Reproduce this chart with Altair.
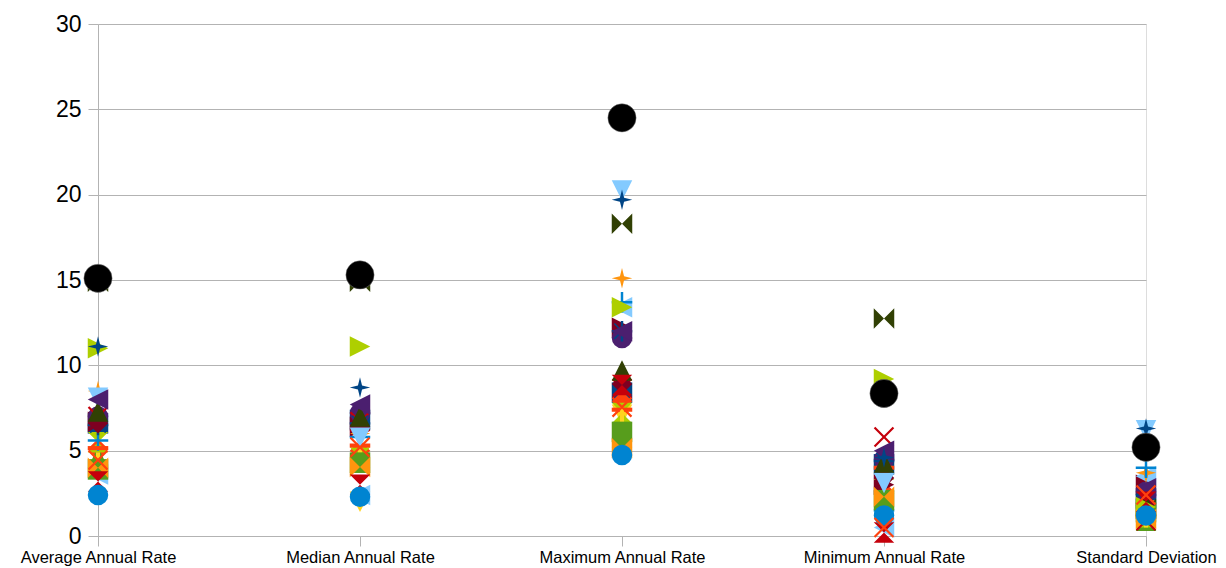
import altair as alt
import pandas as pd

categories = ["Average Annual Rate", "Median Annual Rate", "Maximum Annual Rate",
              "Minimum Annual Rate", "Standard Deviation"]

# series values: [avg, median, max, min, std]
s01 = [6.6, 6.8, 8.4, 4.2, 2.2]
s02 = [5.1, 5.0, 7.9, 2.6, 1.8]
s03 = [3.9, 2.0, 7.1, 1.9, 1.5]
s04 = [4.6, 4.3, 5.8, 1.8, 0.9]
s05 = [6.7, 6.4, 12.2, 3.0, 3.0]
s06 = [3.6, 2.4, 13.4, 0.5, 3.5]
s07 = [14.9, 14.9, 18.3, 12.75, 1.6]
s08 = [5.5, 4.6, 7.2, 3.9, 1.1]
s09 = [7.0, 7.2, 11.6, 4.5, 2.6]
s10 = [8.5, 6.0, 15.1, 4.0, 3.7]
s11 = [7.0, 6.7, 8.65, 5.8, 0.9]
s12 = [5.6, 5.8, 13.7, 1.5, 4.0]
s13 = [6.5, 6.6, 12.0, 4.4, 2.4]
s14 = [5.15, 5.3, 7.4, 4.0, 1.2]
s15 = [4.3, 4.5, 7.0, 3.6, 1.1]
s16 = [3.9, 4.3, 6.1, 2.1, 1.4]
s17 = [6.6, 6.3, 8.9, 3.4, 1.9]
s18 = [8.1, 5.75, 20.25, 3.1, 6.2]
s19 = [7.3, 7.0, 9.7, 4.3, 1.8]
s20 = [11.0, 11.1, 13.4, 9.2, 1.7]
s21 = [8.0, 7.7, 12.0, 5.0, 2.8]
s22 = [4.0, 4.05, 5.15, 2.3, 1.0]
s23 = [3.2, 3.0, 8.85, 0.2, 2.0]
s24 = [2.4, 2.3, 4.75, 1.2, 1.2]
s25 = [11.1, 8.7, 19.7, 4.6, 6.3]
s26 = [4.45, 5.2, 7.55, 0.5, 2.4]
highlight = [15.1, 15.3, 24.5, 8.35, 5.2]

series_values = [s01, s02, s03, s04, s05, s06, s07, s08, s09, s10, s11, s12, s13,
                 s14, s15, s16, s17, s18, s19, s20, s21, s22, s23, s24, s25, s26]
series_names = [f"Series {i+1}" for i in range(len(series_values))]

palette = ["#004586", "#ff420e", "#ffd320", "#579d1c", "#7e0021", "#83caff",
           "#314004", "#aecf00", "#4b1f6f", "#ff950e", "#c5000b", "#0084d1"]

SQUARE = "M-1,-1H1V1H-1Z"
DIAMOND = "M0,-1L1,0L0,1L-1,0Z"
DOWN = "M-1,-1L1,-1L0,1Z"
UP = "M-1,1L1,1L0,-1Z"
RIGHT = "M-1,-1L1,0L-1,1Z"
LEFT = "M1,-1L-1,0L1,1Z"
BOWTIE = "M-1,-1L0,0L-1,1Z M1,-1L0,0L1,1Z"
SANDGLASS = "M-1,-1L1,-1L0,0Z M-1,1L1,1L0,0Z"
CIRCLE = "circle"
STAR = "M0,-1L0.2,-0.2L1,0L0.2,0.2L0,1L-0.2,0.2L-1,0L-0.2,-0.2Z"
XSHAPE = ("M-1,-0.85L-0.85,-1L0,-0.15L0.85,-1L1,-0.85L0.15,0L1,0.85L0.85,1"
          "L0,0.15L-0.85,1L-1,0.85L-0.15,0Z")
PLUS = "M-0.12,-1H0.12V-0.12H1V0.12H0.12V1H-0.12V0.12H-1V-0.12H-0.12Z"
ASTERISK = (PLUS + " M-0.8,-0.7L-0.7,-0.8L0,-0.1L0.7,-0.8L0.8,-0.7L0.1,0L0.8,0.7"
            "L0.7,0.8L0,0.1L-0.7,0.8L-0.8,0.7L-0.1,0Z")
HBAR = "M-1,-0.2H1V0.2H-1Z"
VBAR = "M-0.2,-1H0.2V1H-0.2Z"
symbols = [SQUARE, DIAMOND, DOWN, UP, RIGHT, LEFT, BOWTIE, SANDGLASS, CIRCLE,
           STAR, XSHAPE, PLUS, ASTERISK, HBAR, VBAR]

colors = [palette[i % len(palette)] for i in range(len(series_values))]
shapes = [symbols[i % len(symbols)] for i in range(len(series_values))]

rows = []
for name, vals in zip(series_names, series_values):
    for c, v in zip(categories, vals):
        rows.append({"series": name, "category": c, "value": v})
df = pd.DataFrame(rows)
df_hl = pd.DataFrame({"category": categories, "value": highlight})

x_enc = alt.X("category:N", sort=categories,
              scale=alt.Scale(type="point", padding=0),
              axis=alt.Axis(title=None, labelAngle=0, labelFontSize=16.5,
                            labelFont="Liberation Sans", labelColor="#000000",
                            labelLimit=0, labelOverlap=False,
                            tickSize=10, labelPadding=3, grid=False,
                            tickColor="#b3b3b3", domainColor="#b3b3b3"))
y_enc = alt.Y("value:Q", scale=alt.Scale(domain=[0, 30], nice=False),
              axis=alt.Axis(title=None, values=[0, 5, 10, 15, 20, 25, 30],
                            labelFontSize=23, labelFont="Liberation Sans",
                            labelColor="#000000", tickSize=10, labelPadding=7,
                            tickColor="#b3b3b3", domainColor="#b3b3b3",
                            gridColor="#b3b3b3"))

points = alt.Chart(df).mark_point(filled=True, opacity=1, size=420, strokeWidth=0).encode(
    x=x_enc,
    y=y_enc,
    color=alt.Color("series:N", scale=alt.Scale(domain=series_names, range=colors), legend=None),
    shape=alt.Shape("series:N", scale=alt.Scale(domain=series_names, range=shapes), legend=None),
)

hl = alt.Chart(df_hl).mark_point(filled=True, opacity=1, size=800, shape="circle",
                                 color="#000000", stroke="#888888", strokeWidth=0.5).encode(
    x=alt.X("category:N", sort=categories),
    y=alt.Y("value:Q"),
)

chart = alt.layer(points, hl).properties(
    width=1048, height=512,
    autosize=alt.AutoSizeParams(type="none"),
    padding={"left": 90, "top": 16, "right": 72, "bottom": 36},
).configure_view(stroke="#b3b3b3", strokeWidth=1).configure(background="white")

chart.save("out.html", embed_options={"renderer": "svg", "actions": False})
